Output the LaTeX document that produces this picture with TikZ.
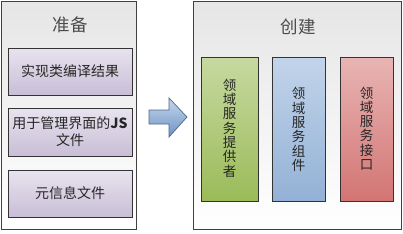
\documentclass[tikz,border=0pt]{standalone}
\usepackage{fontspec}
\newfontfamily\cjk{Noto Sans CJK SC}
\usetikzlibrary{shadows}
\definecolor{lavtop}{HTML}{E8E3EF}
\definecolor{lavbot}{HTML}{C8BED6}
\definecolor{grtop}{HTML}{C6D9A0}
\definecolor{grbot}{HTML}{9BBB59}
\definecolor{bltop}{HTML}{C2D4EA}
\definecolor{blbot}{HTML}{93B1D6}
\definecolor{rdtop}{HTML}{E8B5B4}
\definecolor{rdbot}{HTML}{D27573}
\definecolor{artop}{HTML}{C5D6EC}
\definecolor{arbot}{HTML}{6F93C4}
\tikzset{
  panel/.style={draw=black!75, line width=0.8pt, top color=black!10, bottom color=white, drop shadow={shadow xshift=1.2pt, shadow yshift=-1.2pt, opacity=0.6}},
  lavbox/.style={draw=black!80, line width=0.8pt, top color=lavtop, bottom color=lavbot, drop shadow={shadow xshift=1.2pt, shadow yshift=-1.2pt, opacity=0.6}},
  colbox/.style={draw=black!80, line width=0.8pt, drop shadow={shadow xshift=1.2pt, shadow yshift=-1.2pt, opacity=0.6}},
  lbl/.style={font=\cjk\fontsize{14}{17}\selectfont, text=black!85, align=center, inner sep=0pt},
  vlbl/.style={font=\cjk\fontsize{13.5}{14.3}\selectfont, text=black!85, align=center, text width=15pt, inner sep=0pt},
  ttl/.style={font=\cjk\fontsize{17.5}{20}\selectfont, text=black!70}
}
\begin{document}
\begin{tikzpicture}[x=1pt,y=-1pt]
\useasboundingbox (0,0) rectangle (403,233);
% left panel
\path[panel] (1,1) rectangle (136,229);
\node[ttl] (t1) at (70,25) {准备};
\path[lavbox] (8,48) rectangle (132,95);
\node[lbl] (b1) at (70,71.5) {实现类编译结果};
\path[lavbox] (8,108) rectangle (132,156);
\node[lbl] (b2) at (70,132) {用于管理界面的\textbf{JS}\\文件};
\path[lavbox] (8,170) rectangle (132,217);
\node[lbl] (b3) at (70,193.5) {元信息文件};
% arrow
\path[draw=black!30!arbot, line width=0.7pt, top color=artop, bottom color=arbot, shading angle=0]
  (149,110) -- (169,110) -- (169,98) -- (187,117) -- (169,137) -- (169,124) -- (149,124) -- cycle;
% right panel
\path[panel] (193,1) rectangle (401,229);
\node[ttl] (t2) at (298,27) {创建};
\path[colbox, top color=grtop, bottom color=grbot] (201,57) rectangle (258,201);
\node[vlbl] (g) at (229.5,128) {领\\域\\服\\务\\提\\供\\者};
\path[colbox, top color=bltop, bottom color=blbot] (272,57) rectangle (325,201);
\node[vlbl] (bl) at (298.5,129.5) {领\\域\\服\\务\\组\\件};
\path[colbox, top color=rdtop, bottom color=rdbot] (340,57) rectangle (393,201);
\node[vlbl] (r) at (366.5,128.5) {领\\域\\服\\务\\接\\口};
\end{tikzpicture}
\end{document}
